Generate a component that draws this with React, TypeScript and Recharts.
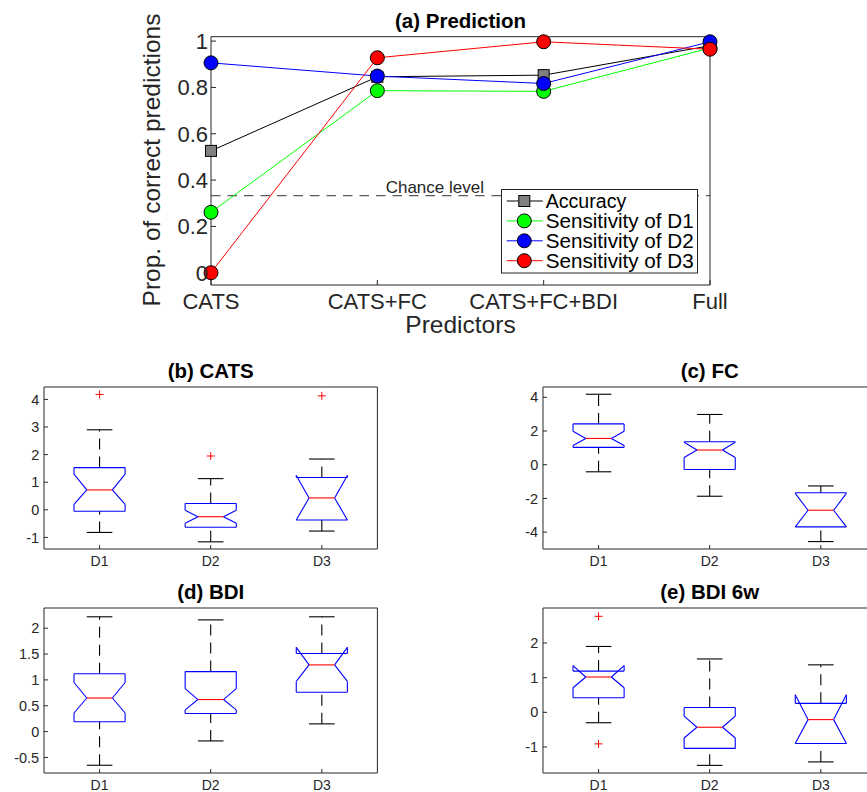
import React from 'react';
import { LineChart, Line, ComposedChart, Scatter, XAxis, YAxis, ReferenceLine, Legend } from 'recharts';

const FONT = '"Liberation Sans", Arial, Helvetica, sans-serif';
const AXIS = '#262626';
const TXT = '#262626';

// ---------- (a) Prediction ----------
const predictors = ['CATS', 'CATS+FC', 'CATS+FC+BDI', 'Full'];
const accuracy = [0.526, 0.846, 0.853, 0.98];
const sensD1 = [0.261, 0.786, 0.783, 0.97];
const sensD2 = [0.906, 0.849, 0.817, 0.997];
const sensD3 = [0.0, 0.928, 0.997, 0.965];
const chanceLevel = 0.333;
const predYTicks = [0, 0.2, 0.4, 0.6, 0.8, 1];
const predIdx = [0, 1, 2, 3];

const seriesNames = ['Accuracy', 'Sensitivity of D1', 'Sensitivity of D2', 'Sensitivity of D3'];
const seriesKeys = ['acc', 'd1', 'd2', 'd3'];
const seriesColors = ['#000000', '#00ff00', '#0000ff', '#ff0000'];
const markerFills = ['#808080', '#00ff00', '#0000ff', '#ff0000'];

// ---------- box panels ----------
const groups = ['D1', 'D2', 'D3'];
// each row: [lowerWhisker, q1, notchLow, median, notchHigh, q3, upperWhisker]
const catsStats = [
  [-0.82, -0.05, 0.2, 0.72, 1.29, 1.53, 2.9],
  [-1.16, -0.63, -0.49, -0.25, -0.02, 0.23, 1.13],
  [-0.77, -0.37, -0.37, 0.43, 1.24, 1.17, 1.84],
];
const catsOutliers = [[4.18], [1.95], [4.13]];
const catsTicks = [-1, 0, 1, 2, 3, 4];

const fcStats = [
  [-0.42, 1.03, 1.14, 1.56, 1.99, 2.42, 4.18],
  [-1.87, -0.28, 0.43, 0.87, 1.33, 1.36, 2.98],
  [-4.56, -3.69, -3.69, -2.7, -1.7, -1.66, -1.26],
];
const fcOutliers = [[], [], []];
const fcTicks = [-4, -2, 0, 2, 4];

const bdiStats = [
  [-0.65, 0.19, 0.36, 0.65, 0.95, 1.12, 2.22],
  [-0.18, 0.35, 0.42, 0.62, 0.83, 1.16, 2.16],
  [0.15, 0.76, 0.97, 1.29, 1.63, 1.51, 2.22],
];
const bdiOutliers = [[], [], []];
const bdiTicks = [-0.5, 0, 0.5, 1, 1.5, 2];

const bdi6Stats = [
  [-0.3, 0.42, 0.71, 1.02, 1.35, 1.19, 1.9],
  [-1.53, -1.04, -0.74, -0.43, -0.11, 0.14, 1.54],
  [-1.43, -0.9, -0.9, -0.21, 0.51, 0.26, 1.37],
];
const bdi6Outliers = [[2.77, -0.91], [], []];
const bdi6Ticks = [-1, 0, 1, 2];

const groupPos = [1, 2, 3];

// ---------- top chart ----------
const squareDot = (fill: string) => (p: any) => (
  <rect key={`sq-${p.index}`} x={p.cx - 5.5} y={p.cy - 5.5} width={11} height={11} fill={fill} stroke="#000" strokeWidth={1} />
);
const circleDot = (fill: string) => (p: any) => (
  <circle key={`c-${fill}-${p.index}`} cx={p.cx} cy={p.cy} r={7} fill={fill} stroke="#000" strokeWidth={1} />
);

const renderLegend = () => (
  <svg width={198} height={85} style={{ display: 'block' }}>
    <rect x={0.5} y={0.5} width={196} height={83.5} fill="#fff" stroke={AXIS} strokeWidth={1} />
    {seriesNames.map((n, i) => {
      const cy = 12 + i * 19.9;
      return (
        <g key={n}>
          <line x1={5.7} x2={41.7} y1={cy} y2={cy} stroke={seriesColors[i]} strokeWidth={1} />
          {i === 0 ? (
            <rect x={23.3 - 5.5} y={cy - 5.5} width={11} height={11} fill={markerFills[i]} stroke="#000" />
          ) : (
            <circle cx={23.3} cy={cy} r={7} fill={markerFills[i]} stroke="#000" />
          )}
          <text x={44.7} y={cy + 7.1} fontSize={19.6} fontFamily={FONT} fill="#000" textLength={i === 0 ? undefined : 148} lengthAdjust="spacingAndGlyphs">{n}</text>
        </g>
      );
    })}
  </svg>
);

function PredictionChart() {
  const data = predIdx.map((i) => ({
    idx: i,
    acc: accuracy[i],
    d1: sensD1[i],
    d2: sensD2[i],
    d3: sensD3[i],
  }));
  const W = 760, H = 345;
  const px0 = 211, px1 = 710, py0 = 36.7, py1 = 285;
  const yAxisW = 60, xAxisH = 30, rAxisW = 5, tAxisH = 5;
  const margin = { left: px0 - yAxisW, right: W - px1 - rAxisW, top: py0 - tAxisH, bottom: H - py1 - xAxisH };
  const cx = (px0 + px1) / 2;
  return (
    <div style={{ position: 'absolute', left: 0, top: 0 }}>
      <LineChart width={W} height={H} data={data} margin={margin}>
        <XAxis xAxisId="x" dataKey="idx" type="number" domain={[0, 3]} ticks={predIdx} height={xAxisH}
          tickFormatter={(v: number) => predictors[v]} tickSize={-5} tickMargin={13.3}
          axisLine={{ stroke: AXIS }} tickLine={{ stroke: AXIS }}
          tick={{ fill: TXT, fontSize: 22, fontFamily: FONT }} interval={0} />
        <XAxis xAxisId="xt" dataKey="idx" orientation="top" type="number" domain={[0, 3]} ticks={predIdx} height={tAxisH}
          tickSize={-5} tick={false} axisLine={{ stroke: AXIS }} tickLine={{ stroke: AXIS }} />
        <YAxis yAxisId="y" type="number" domain={[-0.053, 1.019]} ticks={predYTicks} width={yAxisW}
          tickSize={-5} tickMargin={8} axisLine={{ stroke: AXIS }} tickLine={{ stroke: AXIS }}
          tick={{ fill: TXT, fontSize: 22, fontFamily: FONT }} interval={0} />
        <YAxis yAxisId="yr" orientation="right" type="number" domain={[-0.053, 1.019]} ticks={predYTicks} width={rAxisW}
          tickSize={-5} tick={false} axisLine={{ stroke: AXIS }} tickLine={{ stroke: AXIS }} />
        <ReferenceLine xAxisId="x" yAxisId="y" y={chanceLevel} stroke="#5a5a5a" strokeWidth={1.2} strokeDasharray="9.5 7"
          label={(p: any) => {
            const vb = p.viewBox || {};
            return (
              <text x={vb.x + vb.width * 0.547} y={vb.y - 2.2} textAnchor="end" fontSize={17} fontFamily={FONT} fill={TXT}>
                Chance level
              </text>
            );
          }} />
        {seriesKeys.map((k, i) => (
          <Line key={k} xAxisId="x" yAxisId="y" dataKey={k} name={seriesNames[i]} stroke={seriesColors[i]} strokeWidth={1}
            isAnimationActive={false} activeDot={false}
            dot={i === 0 ? squareDot(markerFills[i]) : circleDot(markerFills[i])} />
        ))}
        <Legend layout="vertical" align="center" verticalAlign="middle" content={renderLegend}
          wrapperStyle={{ left: 501, top: 189, width: 198, height: 85 }} />
        <text x={cx} y={28} textAnchor="middle" fontSize={20.5} fontWeight="bold" fontFamily={FONT} fill="#000">(a) Prediction</text>
        <text x={cx} y={333} textAnchor="middle" fontSize={24.5} fontFamily={FONT} fill={TXT}>Predictors</text>
        <text transform="translate(160,160) rotate(-90)" textAnchor="middle" fontSize={24.5} fontFamily={FONT} fill={TXT}>
          Prop. of correct predictions
        </text>
      </LineChart>
    </div>
  );
}

// ---------- box panel ----------
type Seg = { a: [number, number]; b: [number, number]; color: string; dash?: string };

function buildSegments(stats: number[][]): Seg[] {
  const segs: Seg[] = [];
  const W = 0.23, Wi = 0.115;
  stats.forEach((s, i) => {
    const c = groupPos[i];
    const [lw, q1, nl, med, nh, q3, uw] = s;
    // whiskers (drawn bottom to top) and caps
    segs.push({ a: [c, q3], b: [c, uw], color: '#000', dash: '11 7' });
    segs.push({ a: [c, lw], b: [c, q1], color: '#000', dash: '11 7' });
    segs.push({ a: [c - Wi, uw], b: [c + Wi, uw], color: '#000' });
    segs.push({ a: [c - Wi, lw], b: [c + Wi, lw], color: '#000' });
    // notched box
    const blue = '#0000ff';
    segs.push({ a: [c - W, q1], b: [c + W, q1], color: blue });
    segs.push({ a: [c - W, q3], b: [c + W, q3], color: blue });
    [-1, 1].forEach((sg) => {
      segs.push({ a: [c + sg * W, q1], b: [c + sg * W, nl], color: blue });
      segs.push({ a: [c + sg * W, nl], b: [c + sg * Wi, med], color: blue });
      segs.push({ a: [c + sg * Wi, med], b: [c + sg * W, nh], color: blue });
      segs.push({ a: [c + sg * W, nh], b: [c + sg * W, q3], color: blue });
    });
    segs.push({ a: [c - Wi, med], b: [c + Wi, med], color: '#ff0000' });
  });
  return segs;
}

const plusShape = (p: any) => (
  <path d={`M${p.cx - 4},${p.cy}H${p.cx + 4}M${p.cx},${p.cy - 4}V${p.cy + 4}`} stroke="#ff0000" strokeWidth={1} fill="none" />
);
const noShape = () => <g />;

function BoxPanel(props: {
  title: string; stats: number[][]; outliers: number[][]; yTicks: number[]; yDomain: [number, number];
  x0: number; y0: number; x1: number; y1: number;
}) {
  const { title, stats, outliers, yTicks, yDomain, x0, y0, x1, y1 } = props;
  const padL = 60, padR = 20, padT = 40, padB = 40;
  const yAxisW = 50, xAxisH = 30, rAxisW = 5, tAxisH = 5;
  const W = x1 - x0 + padL + padR;
  const H = y1 - y0 + padT + padB;
  const margin = { left: padL - yAxisW, right: padR - rAxisW, top: padT - tAxisH, bottom: padB - xAxisH };
  const pts = outliers.flatMap((vals, i) => vals.map((v) => ({ x: groupPos[i], y: v })));
  const medians = stats.map((s, i) => ({ x: groupPos[i], y: s[3] }));
  const segs = buildSegments(stats);
  return (
    <div style={{ position: 'absolute', left: x0 - padL, top: y0 - padT }}>
      <ComposedChart width={W} height={H} margin={margin} data={medians}>
        <XAxis xAxisId="x" dataKey="x" type="number" domain={[0.5, 3.5]} ticks={groupPos} height={xAxisH}
          tickFormatter={(v: number) => groups[v - 1]} tickSize={-4} tickMargin={10.7} interval={0}
          axisLine={{ stroke: AXIS }} tickLine={{ stroke: AXIS }} tick={{ fill: TXT, fontSize: 14, fontFamily: FONT }} />
        <XAxis xAxisId="xt" dataKey="x" orientation="top" type="number" domain={[0.5, 3.5]} ticks={groupPos} height={tAxisH}
          tickSize={-4} tick={false} axisLine={{ stroke: AXIS }} tickLine={{ stroke: AXIS }} />
        <YAxis yAxisId="y" type="number" domain={yDomain} ticks={yTicks} width={yAxisW} allowDataOverflow
          tickSize={-4} tickMargin={8.8} interval={0}
          axisLine={{ stroke: AXIS }} tickLine={{ stroke: AXIS }} tick={{ fill: TXT, fontSize: 14.5, fontFamily: FONT }} />
        <YAxis yAxisId="yr" orientation="right" type="number" domain={yDomain} ticks={yTicks} width={rAxisW} allowDataOverflow
          tickSize={-4} tick={false} axisLine={{ stroke: AXIS }} tickLine={{ stroke: AXIS }} />
        <Scatter xAxisId="x" yAxisId="y" data={medians} dataKey="y" shape={noShape} isAnimationActive={false} />
        <Scatter xAxisId="xt" yAxisId="yr" data={medians} dataKey="y" shape={noShape} isAnimationActive={false} />
        {segs.map((s, k) => (
          <ReferenceLine key={k} xAxisId="x" yAxisId="y" ifOverflow="visible"
            segment={[{ x: s.a[0], y: s.a[1] }, { x: s.b[0], y: s.b[1] }]}
            stroke={s.color} strokeWidth={1.1} strokeDasharray={s.dash} />
        ))}
        {pts.length > 0 && (
          <Scatter xAxisId="x" yAxisId="y" data={pts} dataKey="y" shape={plusShape} isAnimationActive={false} />
        )}
        <text x={padL + (x1 - x0) / 2} y={padT - 8.5} textAnchor="middle" fontSize={20.5} fontWeight="bold" fontFamily={FONT} fill="#000">
          {title}
        </text>
      </ComposedChart>
    </div>
  );
}

export default function App() {
  return (
    <div style={{ position: 'absolute', left: 0, top: 0, width: 867, height: 792, overflow: 'hidden', background: '#fff' }}>
      <PredictionChart />
      <BoxPanel title="(b) CATS" stats={catsStats} outliers={catsOutliers} yTicks={catsTicks} yDomain={[-1.42, 4.45]}
        x0={44.3} y0={386.7} x1={377.7} y1={548.7} />
      <BoxPanel title="(c) FC" stats={fcStats} outliers={fcOutliers} yTicks={fcTicks} yDomain={[-5, 4.61]}
        x0={543.3} y0={386.7} x1={876.7} y1={548.7} />
      <BoxPanel title="(d) BDI" stats={bdiStats} outliers={bdiOutliers} yTicks={bdiTicks} yDomain={[-0.8, 2.39]}
        x0={44.3} y0={608.3} x1={377.7} y1={773.3} />
      <BoxPanel title="(e) BDI 6w" stats={bdi6Stats} outliers={bdi6Outliers} yTicks={bdi6Ticks} yDomain={[-1.75, 3.01]}
        x0={543.3} y0={608.3} x1={876.7} y1={773.3} />
    </div>
  );
}
